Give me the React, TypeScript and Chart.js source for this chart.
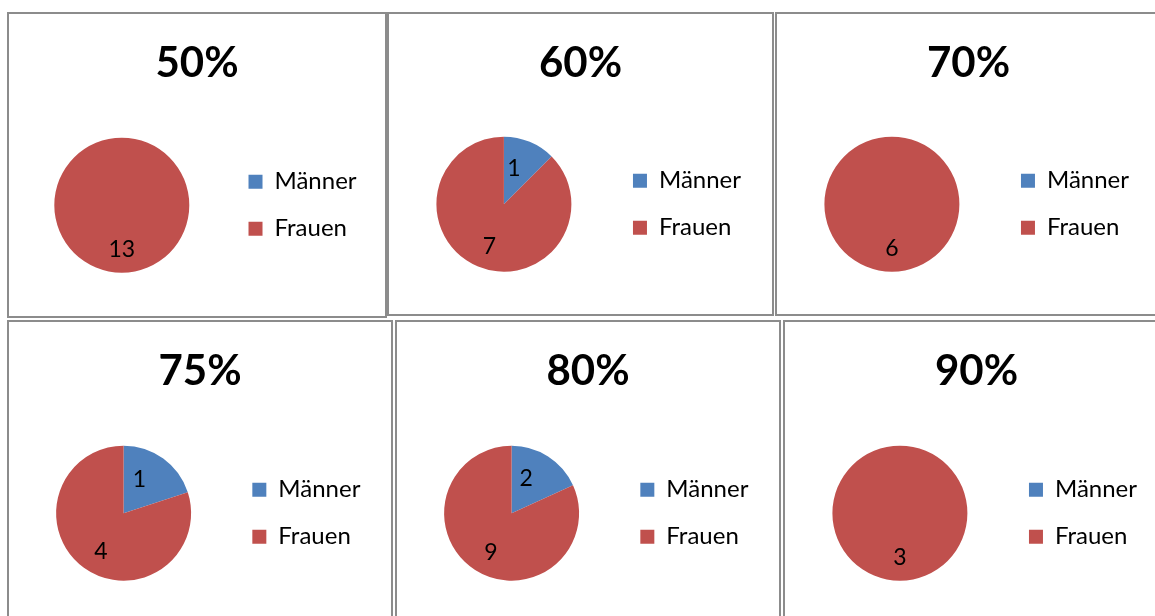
import React, { useEffect, useRef } from 'react';
import { Chart, registerables } from 'chart.js';

Chart.register(...registerables);

// ---- data ----
const chartTitles = ['50%', '60%', '70%', '75%', '80%', '90%'];
const categories = ['Männer', 'Frauen'];
const maennerCounts = [0, 1, 0, 1, 2, 0];
const frauenCounts = [13, 7, 6, 4, 9, 3];

// ---- styles / layout ----
const sliceColors = ['#4F81BD', '#C0504D'];
const panels = [
  { left: 7, top: 12, width: 380, height: 306 },
  { left: 387, top: 12, width: 387, height: 304 },
  { left: 775, top: 12, width: 387, height: 304 },
  { left: 7, top: 320, width: 386, height: 306 },
  { left: 395, top: 320, width: 386, height: 306 },
  { left: 783, top: 320, width: 387, height: 306 },
];
const BORDER = 2;
const LEGEND_PAD = 23;

const legendWidthPlugin = {
  id: 'legendWidth',
  beforeLayout(chart: any) {
    const lg: any = chart.legend;
    if (lg && !lg.__patched) {
      const orig = lg.fit;
      lg.fit = function () {
        orig.call(this);
        this.width = this.chart.width * 0.4;
      };
      lg.__patched = true;
    }
  },
};

const sliceLabels = {
  id: 'sliceLabels',
  afterDatasetsDraw(chart: any) {
    const ctx = chart.ctx;
    const meta = chart.getDatasetMeta(0);
    const data = chart.data.datasets[0].data;
    ctx.save();
    ctx.font = '23px Lato';
    ctx.fillStyle = '#000';
    ctx.textAlign = 'center';
    ctx.textBaseline = 'middle';
    meta.data.forEach((arc: any, i: number) => {
      const v = data[i];
      if (!v) return;
      const { x, y, startAngle, endAngle, outerRadius } = arc.getProps(
        ['x', 'y', 'startAngle', 'endAngle', 'outerRadius'],
        true
      );
      const span = endAngle - startAngle;
      const small = span < Math.PI;
      let a: number;
      let r: number;
      if (small) {
        a = startAngle + span * 0.35;
        r = outerRadius * 0.55;
      } else {
        const mid = startAngle + span / 2;
        a = mid - 0.15 * (mid - Math.PI / 2);
        r = outerRadius * 0.66;
      }
      ctx.fillText(String(v), x + Math.cos(a) * r, y + Math.sin(a) * r);
    });
    ctx.restore();
  },
};

function PiePanel({ idx }: { idx: number }) {
  const ref = useRef<HTMLCanvasElement>(null);
  const p = panels[idx];
  const W = p.width - 2 * BORDER;
  const H = p.height - 2 * BORDER;
  useEffect(() => {
    const side = LEGEND_PAD - 0.037 * W;
    const chart = new Chart(ref.current as HTMLCanvasElement, {
      type: 'pie',
      data: {
        labels: categories,
        datasets: [
          {
            data: [maennerCounts[idx], frauenCounts[idx]],
            backgroundColor: sliceColors,
            borderWidth: 0,
            radius: 67.5,
          } as any,
        ],
      },
      options: {
        responsive: false,
        animation: false,
        events: [],
        layout: { padding: { left: side, right: side, top: 0, bottom: 3 } },
        plugins: {
          title: {
            display: true,
            text: chartTitles[idx],
            color: '#000',
            font: { family: 'Lato', size: 42, weight: 'bold', lineHeight: 1.2 },
            padding: { top: 24, bottom: 9 },
          },
          legend: {
            position: 'right',
            align: 'center',
            fullSize: false,
            labels: {
              color: '#000',
              font: { family: 'Lato', size: 24 },
              boxWidth: 14,
              boxHeight: 14,
              padding: LEGEND_PAD,
            },
          },
          tooltip: { enabled: false },
        },
      } as any,
      plugins: [legendWidthPlugin, sliceLabels] as any,
    });
    return () => chart.destroy();
  }, [idx, W, H]);
  return (
    <div
      style={{
        position: 'absolute',
        left: p.left,
        top: p.top,
        width: W,
        height: H,
        border: `${BORDER}px solid #8c8c8c`,
        background: '#fff',
      }}
    >
      <canvas ref={ref} width={W} height={H} style={{ display: 'block', width: W, height: H }} />
    </div>
  );
}

export default function App() {
  return (
    <div
      style={{
        position: 'absolute',
        left: 0,
        top: 0,
        width: 1155,
        height: 616,
        overflow: 'hidden',
        background: '#fff',
      }}
    >
      {chartTitles.map((_, i) => (
        <PiePanel key={i} idx={i} />
      ))}
    </div>
  );
}
